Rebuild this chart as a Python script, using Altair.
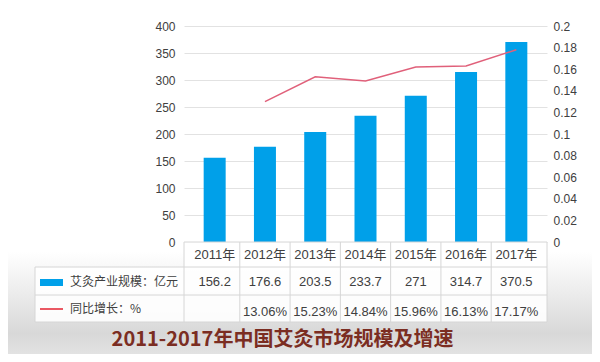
import altair as alt
import pandas as pd

# ---- data ----
years = ["2011", "2012", "2013", "2014", "2015", "2016", "2017"]
year_labels = ["2011年", "2012年", "2013年", "2014年", "2015年", "2016年", "2017年"]
market_size = [156.2, 176.6, 203.5, 233.7, 271, 314.7, 370.5]
size_labels = ["156.2", "176.6", "203.5", "233.7", "271", "314.7", "370.5"]
# growth line as plotted in the picture (right axis)
growth = [None, 0.130, 0.153, 0.149, 0.162, 0.163, 0.178]
growth_labels = ["", "13.06%", "15.23%", "14.84%", "15.96%", "16.13%", "17.17%"]
row_names = ["艾灸产业规模：亿元", "同比增长：%"]
left_ticks = [0, 50, 100, 150, 200, 250, 300, 350, 400]
right_ticks = [0, 0.02, 0.04, 0.06, 0.08, 0.1, 0.12, 0.14, 0.16, 0.18, 0.2]
title_text = "2011-2017年中国艾灸市场规模及增速"

df = pd.DataFrame({
    "year": years,
    "year_label": year_labels,
    "market": market_size,
    "market_label": size_labels,
    "growth": growth,
    "growth_label": growth_labels,
})
rows_df = pd.DataFrame({"name": row_names})
title_df = pd.DataFrame({"title": [title_text]})

W, H = 363, 216
NUM_FONT = "Liberation Sans, Noto Sans CJK SC"
CJK_FONT = "Noto Sans CJK SC"
TXT = "#404040"
GRID = "#e2e2e2"

x = alt.X("year:N", sort=years, axis=None,
          scale=alt.Scale(paddingInner=0, paddingOuter=0.11))

base = alt.Chart(df)
one = alt.Chart(title_df)

# background wash at the bottom
bg = one.mark_rect(
    color=alt.Gradient(
        gradient="linear",
        stops=[alt.GradientStop(color="#ffffff", offset=0),
               alt.GradientStop(color="#ececec", offset=0.4),
               alt.GradientStop(color="#d8d8d8", offset=0.8),
               alt.GradientStop(color="#e2e2e2", offset=1)],
        x1=0, x2=0, y1=0, y2=1,
    )
).encode(x=alt.value(-176), x2=alt.value(408), y=alt.value(226), y2=alt.value(328))

# white table cells
cells_body = one.mark_rect(color="white", opacity=0.9).encode(
    x=alt.value(-149), x2=alt.value(W), y=alt.value(241), y2=alt.value(296))
cells_head = one.mark_rect(color="white", opacity=0.9).encode(
    x=alt.value(0), x2=alt.value(W), y=alt.value(H), y2=alt.value(241))

bars = base.mark_bar(size=22, color="#00A0E9").encode(
    x=x,
    y=alt.Y("market:Q",
            scale=alt.Scale(domain=[0, 400], nice=False),
            axis=alt.Axis(values=left_ticks, domain=False, ticks=False, grid=True,
                          gridColor=GRID, labelColor=TXT, labelFontSize=12,
                          labelFont="Liberation Sans", labelPadding=9, title=None)),
)

line = base.transform_filter("datum.growth != null").mark_line(
    color="#E0607A", strokeWidth=1.5
).encode(
    x=x,
    y=alt.Y("growth:Q",
            scale=alt.Scale(domain=[0, 0.2], nice=False),
            axis=alt.Axis(orient="right", values=right_ticks, format="~g",
                          domain=False, ticks=False, grid=False,
                          labelColor=TXT, labelFontSize=12,
                          labelFont="Liberation Sans", labelPadding=6, title=None)),
)

# table grid lines
RULE = "#d6d6d6"
hlines = [
    one.mark_rule(color=RULE, strokeWidth=1).encode(x=alt.value(0), x2=alt.value(W), y=alt.value(H)),
    one.mark_rule(color=RULE, strokeWidth=1).encode(x=alt.value(-149), x2=alt.value(W), y=alt.value(241)),
    one.mark_rule(color=RULE, strokeWidth=1).encode(x=alt.value(-149), x2=alt.value(W), y=alt.value(269)),
    one.mark_rule(color=RULE, strokeWidth=1).encode(x=alt.value(-149), x2=alt.value(W), y=alt.value(296)),
]
vlines = [
    one.mark_rule(color=RULE, strokeWidth=1).encode(x=alt.value(-149), y=alt.value(241), y2=alt.value(296)),
    one.mark_rule(color=RULE, strokeWidth=1).encode(x=alt.value(0), y=alt.value(H), y2=alt.value(296)),
    one.mark_rule(color=RULE, strokeWidth=1).encode(x=alt.value(W), y=alt.value(H), y2=alt.value(296)),
]
dividers = base.transform_filter("datum.year != '2011'").mark_rule(color=RULE, strokeWidth=1).encode(
    x=alt.X("year:N", sort=years, axis=None, bandPosition=0),
    y=alt.value(H), y2=alt.value(296),
)

head_txt = base.mark_text(font=NUM_FONT, fontSize=13, color=TXT, baseline="middle").encode(
    x=x, y=alt.value(229), text="year_label:N")
size_txt = base.mark_text(font=NUM_FONT, fontSize=13, color=TXT, baseline="middle").encode(
    x=x, y=alt.value(256), text="market_label:N")
growth_txt = base.mark_text(font=NUM_FONT, fontSize=13, color=TXT, baseline="middle").encode(
    x=x, y=alt.value(286), text="growth_label:N")

row1_name = alt.Chart(rows_df).transform_filter(f"datum.name == '{row_names[0]}'").mark_text(
    font=CJK_FONT, fontSize=12, color=TXT, align="left", baseline="middle"
).encode(x=alt.value(-114), y=alt.value(256), text="name:N")
row2_name = alt.Chart(rows_df).transform_filter(f"datum.name == '{row_names[1]}'").mark_text(
    font=CJK_FONT, fontSize=12, color=TXT, align="left", baseline="middle"
).encode(x=alt.value(-114), y=alt.value(283), text="name:N")

sw_bar = one.mark_rect(color="#00A0E9").encode(
    x=alt.value(-144), x2=alt.value(-121), y=alt.value(253), y2=alt.value(260))
sw_line = one.mark_rule(color="#E3202F", strokeWidth=1.5).encode(
    x=alt.value(-144), x2=alt.value(-121), y=alt.value(283))

title = one.mark_text(font=CJK_FONT, fontWeight="bold", fontSize=20,
                      color="#7B2D22", baseline="middle").encode(
    x=alt.value(98.5), y=alt.value(314), text="title:N")

chart = alt.layer(
    bg, cells_body, cells_head, bars, line, *hlines, *vlines, dividers,
    head_txt, size_txt, growth_txt, row1_name, row2_name, sw_bar, sw_line, title,
).resolve_scale(y="independent").properties(
    width=W, height=H,
    autosize=alt.AutoSizeParams(type="none"),
    padding={"left": 176, "top": 18, "right": 45, "bottom": 112},
    background="white",
).configure_view(stroke=None)

chart.save("out.html", embed_options={"renderer": "svg", "actions": False})
